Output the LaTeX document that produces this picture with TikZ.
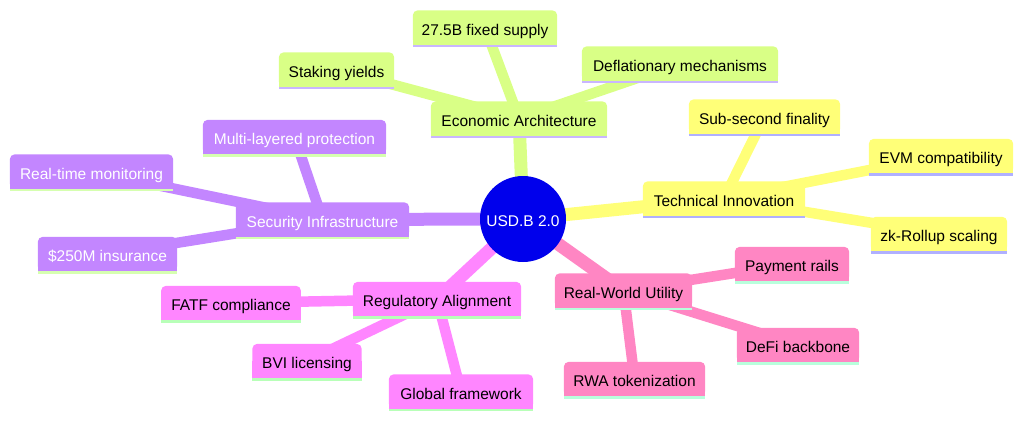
\documentclass[tikz,border=0pt]{standalone}
\usepackage{fontspec}
\setmainfont{Liberation Sans}
\definecolor{secG}{HTML}{D9FF86}
\definecolor{secY}{HTML}{FFFF78}
\definecolor{secP}{HTML}{C386FF}
\definecolor{secM}{HTML}{FF86FF}
\definecolor{secR}{HTML}{FF86C3}
\definecolor{linG}{HTML}{C9B6FF}
\definecolor{linY}{HTML}{B0B0FF}
\definecolor{linP}{HTML}{D6FFB0}
\definecolor{linM}{HTML}{B8FFB8}
\definecolor{linR}{HTML}{B8FFDC}
\definecolor{rootB}{HTML}{0000EC}
\pgfdeclarelayer{edges}
\pgfdeclarelayer{fills}
\pgfsetlayers{edges,fills,main}
\begin{document}
\begin{tikzpicture}[x=1pt,y=-1pt,
  font=\fontsize{15.5}{18}\selectfont,
  mm/.style={inner sep=0pt, minimum height=34pt, text height=15.4pt, text depth=0pt, anchor=center},
  darktxt/.style={mm, text=black},
  lighttxt/.style={mm, text=white},
  rootnode/.style={circle, fill=rootB, text=white, minimum size=86pt, inner sep=0pt, text height=15.4pt, text depth=0pt},
  mainedge/.style={line width=13pt},
  subedge/.style={line width=10.5pt}]
\useasboundingbox (0,0) rectangle (1024,420);

% root
\node[rootnode] (root) at (523,219) {USD.B 2.0};

% Economic Architecture
\node[darktxt, minimum width=176pt] (econ) at (519,118.5) {Economic Architecture};
\node[darktxt, minimum width=144pt] (supply) at (485,27.5) {27.5B fixed supply};
\node[darktxt, minimum width=115pt] (staking) at (336.5,69.5) {Staking yields};
\node[darktxt, minimum width=196pt] (defl) at (680,63.5) {Deflationary mechanisms};

% Technical Innovation
\node[darktxt, minimum width=162pt] (tech) at (724,198.5) {Technical Innovation};
\node[darktxt, minimum width=151pt] (subsec) at (764.5,116.5) {Sub-second finality};
\node[darktxt, minimum width=144pt] (evm) at (941,156) {EVM compatibility};
\node[darktxt, minimum width=136pt] (zk) at (939,234) {zk-Rollup scaling};

% Security Infrastructure
\node[lighttxt, minimum width=173pt] (sec) at (322.5,219.5) {Security Infrastructure};
\node[lighttxt, minimum width=183pt] (multi) at (294.5,137) {Multi-layered protection};
\node[lighttxt, minimum width=163pt] (rtm) at (91.5,171.5) {Real-time monitoring};
\node[lighttxt, minimum width=139pt] (ins) at (107.5,254) {\$250M insurance};

% Regulatory Alignment
\node[darktxt, minimum width=168pt] (reg) at (437,299) {Regulatory Alignment};
\node[darktxt, minimum width=139.5pt] (fatf) at (231,303) {FATF compliance};
\node[darktxt, minimum width=109pt] (bvi) at (307,361) {BVI licensing};
\node[darktxt, minimum width=144pt] (glob) at (461,391.5) {Global framework};

% Real-World Utility
\node[darktxt, minimum width=137pt] (rwu) at (623.5,290.5) {Real-World Utility};
\node[darktxt, minimum width=114pt] (pay) at (792,264) {Payment rails};
\node[darktxt, minimum width=122pt] (defi) at (798,345) {DeFi backbone};
\node[darktxt, minimum width=141pt] (rwa) at (634.5,379) {RWA tokenization};

% box fills with top rounded corners and bottom line
\begin{pgfonlayer}{fills}
\foreach \n/\c/\l in {econ/secG/linG, supply/secG/linG, staking/secG/linG, defl/secG/linG,
  tech/secY/linY, subsec/secY/linY, evm/secY/linY, zk/secY/linY,
  sec/secP/linP, multi/secP/linP, rtm/secP/linP, ins/secP/linP,
  reg/secM/linM, fatf/secM/linM, bvi/secM/linM, glob/secM/linM,
  rwu/secR/linR, pay/secR/linR, defi/secR/linR, rwa/secR/linR}{
  \fill[\c, rounded corners=5pt] (\n.south west) rectangle (\n.north east);
  \fill[\c] (\n.south west) rectangle (\n.east);
  \fill[\l] (\n.south west) rectangle ([yshift=-2.5pt]\n.south east);
}
\end{pgfonlayer}

% connectors
\begin{pgfonlayer}{edges}
\draw[mainedge, secG] (root.center) -- (econ.center);
\draw[subedge, secG] (econ.center) -- (supply.center);
\draw[subedge, secG] (econ.center) -- (staking.center);
\draw[subedge, secG] (econ.center) -- (defl.center);
\draw[mainedge, secY] (root.center) -- (tech.center);
\draw[subedge, secY] (tech.center) -- (subsec.center);
\draw[subedge, secY] (tech.center) -- (evm.center);
\draw[subedge, secY] (tech.center) -- (zk.center);
\draw[mainedge, secP] (root.center) -- (sec.center);
\draw[subedge, secP] (sec.center) -- (multi.center);
\draw[subedge, secP] (sec.center) -- (rtm.center);
\draw[subedge, secP] (sec.center) -- (ins.center);
\draw[mainedge, secM] (root.center) -- (reg.center);
\draw[subedge, secM] (reg.center) -- (fatf.center);
\draw[subedge, secM] (reg.center) -- (bvi.center);
\draw[subedge, secM] (reg.center) -- (glob.center);
\draw[mainedge, secR] (root.center) -- (rwu.center);
\draw[subedge, secR] (rwu.center) -- (pay.center);
\draw[subedge, secR] (rwu.center) -- (defi.center);
\draw[subedge, secR] (rwu.center) -- (rwa.center);
\end{pgfonlayer}
\end{tikzpicture}
\end{document}
